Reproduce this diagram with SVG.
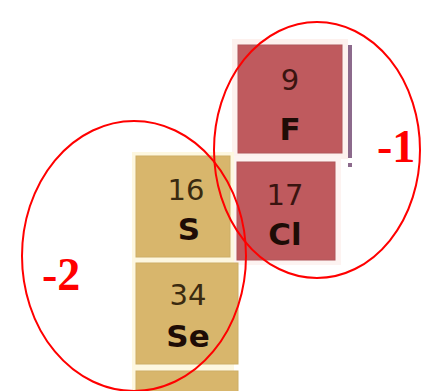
<svg xmlns="http://www.w3.org/2000/svg" width="432" height="391" viewBox="0 0 432 391">
<style>
.num{font-family:"DejaVu Sans",Verdana,sans-serif;font-size:29px;text-anchor:middle}
.sym{font-family:"DejaVu Sans",Verdana,sans-serif;font-size:31px;font-weight:bold;text-anchor:middle;fill:#1e0c06}
.red{fill:#bf5a5e;stroke:#b0565b;stroke-width:1}
.tan{fill:#d8b66c;stroke:#cdae66;stroke-width:1}
.lab{font-family:"Liberation Serif","Times New Roman",serif;font-size:46px;font-weight:bold;fill:#ff0000}
.ring{fill:none;stroke:#ff0000;stroke-width:2}
</style>
<rect width="432" height="391" fill="#ffffff"/>
<g id="frames">
<rect x="232" y="39" width="116" height="120" fill="#fdf1ee"/>
<rect x="231" y="156" width="110" height="109" fill="#fdf3f1"/>
<rect x="132" y="152" width="102" height="239" fill="#fdf7e0"/>
<rect x="348" y="45" width="4" height="113" fill="#8c6a8c"/>
<rect x="348" y="163" width="4" height="4" fill="#8c6a8c"/>
</g>
<g id="tile-F">
<rect class="red" x="238" y="45" width="104" height="108"/>
<text class="num" x="290" y="90" fill="#3a1410">9</text>
<text class="sym" x="290" y="140">F</text>
</g>
<g id="tile-Cl">
<rect class="red" x="237" y="162" width="98" height="98" fill="#b95a5f"/>
<text class="num" x="285" y="205" fill="#3a1410">17</text>
<text class="sym" x="285" y="245">Cl</text>
</g>
<g id="tile-S">
<rect class="tan" x="136" y="156" width="94" height="101"/>
<text class="num" x="186" y="200" fill="#3a2a10">16</text>
<text class="sym" x="189" y="240">S</text>
</g>
<g id="tile-Se">
<rect class="tan" x="136" y="263" width="102" height="101"/>
<text class="num" x="188" y="305" fill="#3a2a10">34</text>
<text class="sym" x="188" y="347">Se</text>
</g>
<g id="tile-next">
<rect class="tan" x="136" y="371" width="102" height="24"/>
</g>
<g id="groups">
<ellipse class="ring" cx="317" cy="150" rx="103" ry="128"/>
<ellipse class="ring" cx="134" cy="256" rx="112" ry="135"/>
</g>
<g id="labels">
<text class="lab" x="377" y="162">-1</text>
<text class="lab" x="42" y="290">-2</text>
</g>
</svg>
